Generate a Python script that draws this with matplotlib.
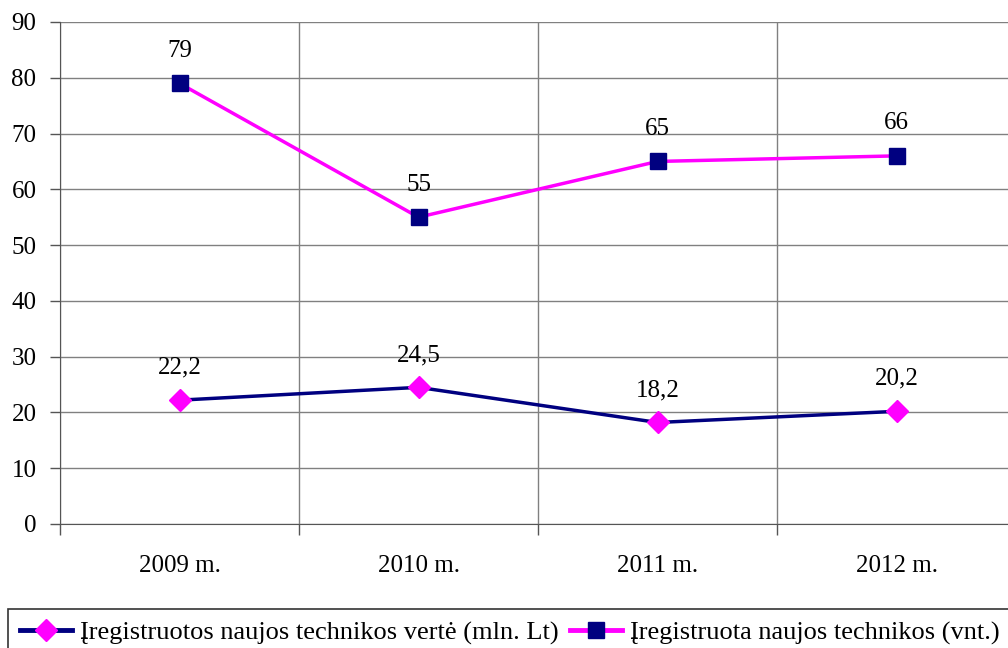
import matplotlib
matplotlib.use("Agg")
import matplotlib.pyplot as plt
import numpy as np

categories = ["2009 m.", "2010 m.", "2011 m.", "2012 m."]
verte = [22.2, 24.5, 18.2, 20.2]
vnt = [79, 55, 65, 66]
verte_labels = ["22,2", "24,5", "18,2", "20,2"]
vnt_labels = ["79", "55", "65", "66"]
name_verte = "Įregistruotos naujos technikos vertė (mln. Lt)"
name_vnt = "Įregistruota naujos technikos (vnt.)"

plt.rcParams['font.family'] = ['Liberation Serif', 'DejaVu Serif']

W, H = 1008, 648
fig = plt.figure(figsize=(W/100, H/100), dpi=100)
left, right = 60, 1016
top, bottom = 22, 524
ax = fig.add_axes([left/W, 1 - bottom/H, (right-left)/W, (bottom-top)/H])

x = np.arange(len(categories))
navy = "#000080"
mag = "#FF00FF"
l1, = ax.plot(x, verte, color=navy, lw=2.5, marker="D", markersize=11,
              markerfacecolor=mag, markeredgecolor=mag, clip_on=False, zorder=3)
l2, = ax.plot(x, vnt, color=mag, lw=2.5, marker="s", markersize=11,
              markerfacecolor=navy, markeredgecolor=navy, clip_on=False, zorder=3)

for xi, v, t in zip(x, verte, verte_labels):
    ax.annotate(t, (xi, v), xytext=(0, 19), textcoords="offset points",
                ha="center", va="baseline", fontsize=18)
for xi, v, t in zip(x, vnt, vnt_labels):
    ax.annotate(t, (xi, v), xytext=(0, 19), textcoords="offset points",
                ha="center", va="baseline", fontsize=18)

ax.set_xlim(-0.5, len(categories) - 0.5)
ax.set_ylim(0, 90)
ax.set_yticks(np.arange(0, 91, 10))
ax.set_xticks(x)
ax.set_xticklabels(categories, fontsize=18)
ax.set_xticks(np.arange(-0.5, len(categories), 1), minor=True)
ax.tick_params(axis="x", which="major", length=0, pad=22)
ax.tick_params(axis="x", which="minor", length=8, color="#555555", width=1)
ax.tick_params(axis="y", labelsize=18, length=7, color="#555555", width=1, pad=10)

ax.grid(axis="y", which="major", color="#808080", lw=1)
ax.grid(axis="x", which="minor", color="#808080", lw=1)
ax.set_axisbelow(True)
for s in ["top", "right"]:
    ax.spines[s].set_visible(False)
ax.spines["left"].set_color("#555555")
ax.spines["bottom"].set_color("#555555")

leg = fig.legend([l1, l2], [name_verte, name_vnt], loc="upper left",
                 bbox_to_anchor=(8/W, 1 - 609/H), borderaxespad=0, ncol=2, fontsize=19,
                 frameon=True, fancybox=False, edgecolor="black",
                 handlelength=1.97, handletextpad=0.3, columnspacing=0.45,
                 borderpad=0.45)
leg.get_frame().set_linewidth(1.2)
for lh in leg.get_lines():
    lh.set_linewidth(3.5)

fig.savefig("out.png", dpi=100)
